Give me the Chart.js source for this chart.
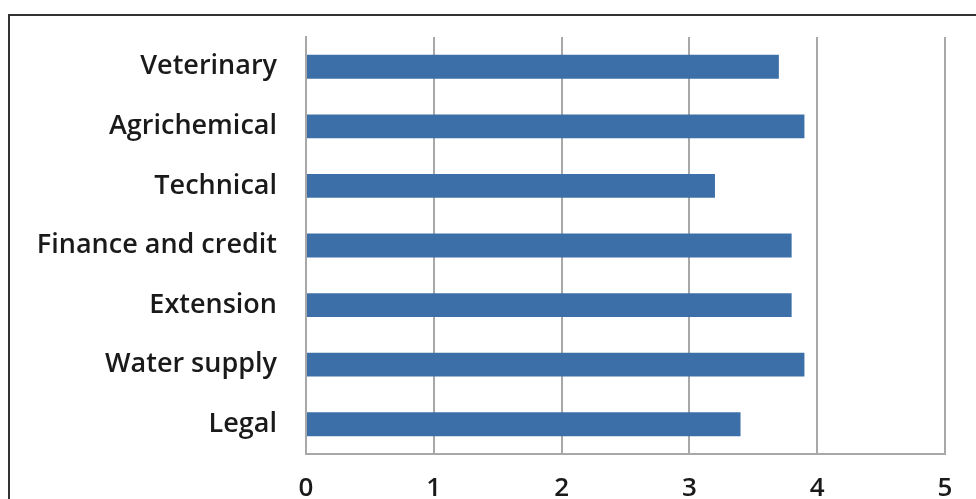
<!DOCTYPE html>
<html>
<head>
<meta charset="utf-8">
<script src="https://cdn.jsdelivr.net/npm/chart.js@4/dist/chart.umd.min.js"></script>
<style>
  html, body { margin: 0; padding: 0; background: #fff; overflow: hidden; }
  #marco { position: absolute; left: 8px; top: 14px; width: 1000px; height: 600px; border: 2px solid #333; box-sizing: border-box; }
  #caja { position: absolute; left: 0; top: 0; width: 976px; height: 499px; }
</style>
</head>
<body>
<div id="marco"></div>
<div id="caja"><canvas id="chart-grafico"></canvas></div>
<script>
const servicios = ['Veterinary', 'Agrichemical', 'Technical', 'Finance and credit', 'Extension', 'Water supply', 'Legal'];
const puntajes = [3.7, 3.9, 3.2, 3.8, 3.8, 3.9, 3.4];
const ticksX = [0, 1, 2, 3, 4, 5];

const ctx = document.getElementById('chart-grafico');
new Chart(ctx, {
    type: 'bar',
    data: {
        labels: servicios,
        datasets: [
            {
                label: 'Servicios',
                data: puntajes,
                backgroundColor: 'rgb(60, 111, 168)',
                barPercentage: 0.4,
                categoryPercentage: 1
            }
        ]
    },
    options: {
        indexAxis: 'y',
        responsive: true,
        maintainAspectRatio: false,
        animation: false,
        layout: { padding: { top: 37, right: 31, bottom: 0, left: 0 } },
        plugins: { legend: { display: false }, tooltip: { enabled: false } },
        scales: {
            x: {
                min: 0,
                max: 5,
                afterBuildTicks: (scale) => { scale.ticks = ticksX.map(v => ({ value: v })); },
                afterFit: (scale) => { scale.height = 45; scale.paddingLeft = 0; scale.paddingRight = 0; },
                grid: { color: '#a8a8a8', lineWidth: 2, drawTicks: false },
                border: { color: '#a8a8a8', width: 2 },
                ticks: { padding: 19, color: '#1a1a1a', font: { family: 'Open Sans', size: 26, weight: 600 }, maxRotation: 0 }
            },
            y: {
                afterFit: (scale) => { scale.width = 306; scale.paddingTop = 0; scale.paddingBottom = 0; },
                grid: { display: false, drawTicks: false },
                border: { color: '#a8a8a8', width: 2 },
                ticks: { padding: 29, color: '#1a1a1a', font: { family: 'Open Sans', size: 27, weight: 600 } }
            }
        }
    }
});
</script>
</body>
</html>
